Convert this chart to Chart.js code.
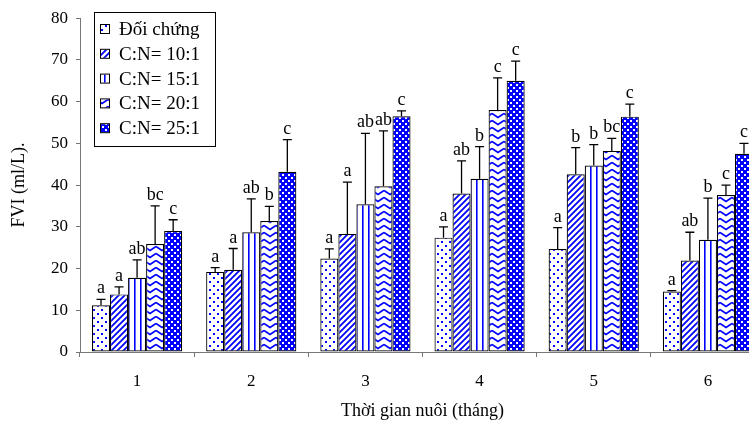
<!DOCTYPE html>
<html>
<head>
<meta charset="utf-8">
<script src="https://cdn.jsdelivr.net/npm/chart.js@4.4.1/dist/chart.umd.min.js"></script>
<style>
  html, body { margin: 0; padding: 0; background: #fff; overflow: hidden; }
  #wrap { width: 770px; height: 422px; }
</style>
</head>
<body>
<div id="wrap"><canvas id="chart"></canvas></div>
<script>
// months of culture
const categories = ['1', '2', '3', '4', '5', '6'];

// FVI means (ml/L)
const doiChung = [11.2, 19.2, 22.4, 27.4, 24.7, 14.5];
const cn10 = [13.8, 19.7, 28.3, 38.0, 42.6, 21.9];
const cn15 = [17.8, 28.7, 35.4, 41.5, 44.7, 26.9];
const cn20 = [25.9, 31.4, 39.7, 58.0, 48.2, 37.6];
const cn25 = [29.0, 43.2, 56.5, 65.0, 56.4, 47.5];

// standard deviations (upper bar only)
const doiChungErr = [1.4, 1.0, 2.3, 2.6, 5.1, 0.2];
const cn10Err = [1.8, 5.1, 12.4, 7.8, 6.4, 6.8];
const cn15Err = [4.3, 8.0, 17.0, 7.7, 5.0, 10.0];
const cn20Err = [9.1, 3.5, 13.3, 7.7, 3.0, 2.4];
const cn25Err = [2.7, 7.7, 1.3, 4.7, 3.0, 2.5];

// significance letters
const doiChungSig = ['a', 'a', 'a', 'a', 'a', 'a'];
const cn10Sig = ['a', 'a', 'a', 'ab', 'b', 'ab'];
const cn15Sig = ['ab', 'ab', 'ab', 'b', 'b', 'b'];
const cn20Sig = ['bc', 'b', 'ab', 'c', 'bc', 'c'];
const cn25Sig = ['c', 'c', 'c', 'c', 'c', 'c'];

const yTicks = [0, 10, 20, 30, 40, 50, 60, 70, 80];

const SERIF = "'Liberation Serif', 'Times New Roman', serif";
const BLUE = '#0000ff';

// Build a small repeating fill pattern
function makePattern(kind) {
  const c = document.createElement('canvas');
  const g = c.getContext('2d');
  if (kind === 'dots') {
    c.width = 8; c.height = 8;
    g.fillStyle = '#fff'; g.fillRect(0, 0, 8, 8);
    g.fillStyle = BLUE;
    g.fillRect(1, 1, 2, 2);
    g.fillRect(5, 5, 2, 2);
  } else if (kind === 'diag') {
    c.width = 6; c.height = 6;
    g.fillStyle = '#fff'; g.fillRect(0, 0, 6, 6);
    g.strokeStyle = BLUE; g.lineWidth = 1.8;
    g.beginPath();
    g.moveTo(-3, 3); g.lineTo(3, -3);
    g.moveTo(0, 6); g.lineTo(6, 0);
    g.moveTo(3, 9); g.lineTo(9, 3);
    g.stroke();
  } else if (kind === 'vert') {
    c.width = 6; c.height = 4;
    g.fillStyle = '#fff'; g.fillRect(0, 0, 6, 4);
    g.fillStyle = BLUE; g.fillRect(2, 0, 1.6, 4);
  } else if (kind === 'zigzag') {
    c.width = 12; c.height = 7;
    g.fillStyle = '#fff'; g.fillRect(0, 0, 12, 7);
    g.strokeStyle = BLUE; g.lineWidth = 1.6;
    g.beginPath();
    g.moveTo(0, 1.5); g.lineTo(6, 5.5); g.lineTo(12, 1.5);
    g.stroke();
  } else {
    c.width = 6; c.height = 6;
    g.fillStyle = BLUE; g.fillRect(0, 0, 6, 6);
    g.fillStyle = '#fff';
    g.fillRect(0, 0, 2, 2);
    g.fillRect(3, 3, 2, 2);
  }
  return g.createPattern(c, 'repeat');
}

// Error bars and letters above every bar
const errorBarPlugin = {
  id: 'errorBars',
  afterDatasetsDraw(chart) {
    const ctx = chart.ctx;
    const yScale = chart.scales.y;
    ctx.save();
    chart.data.datasets.forEach((ds, i) => {
      const meta = chart.getDatasetMeta(i);
      meta.data.forEach((bar, j) => {
        const top = yScale.getPixelForValue(ds.data[j] + ds.errors[j]);
        ctx.strokeStyle = '#000';
        ctx.lineWidth = 1.3;
        ctx.beginPath();
        ctx.moveTo(bar.x, bar.y);
        ctx.lineTo(bar.x, top);
        ctx.moveTo(bar.x - 4.5, top);
        ctx.lineTo(bar.x + 4.5, top);
        ctx.stroke();
        ctx.fillStyle = '#000';
        ctx.font = '18px ' + SERIF;
        ctx.textAlign = 'center';
        ctx.textBaseline = 'alphabetic';
        ctx.fillText(ds.letters[j], bar.x, top - 6);
      });
    });
    ctx.restore();
  }
};

// Boxed legend sitting inside the plot, top left
const boxLegendPlugin = {
  id: 'boxLegend',
  afterDraw(chart) {
    const ctx = chart.ctx;
    ctx.save();
    ctx.fillStyle = '#fff';
    ctx.fillRect(94, 12, 121, 134);
    ctx.strokeStyle = '#000';
    ctx.lineWidth = 1;
    ctx.strokeRect(94.5, 12.5, 121, 134);
    ctx.font = '19px ' + SERIF;
    ctx.textBaseline = 'middle';
    ctx.textAlign = 'left';
    chart.data.datasets.forEach((ds, i) => {
      const y = 29 + i * 24.8;
      ctx.fillStyle = ds.backgroundColor;
      ctx.fillRect(101, y - 4, 8, 8);
      ctx.strokeStyle = '#000';
      ctx.strokeRect(100.5, y - 4.5, 9, 9);
      ctx.fillStyle = '#000';
      ctx.fillText(ds.label, 119, y + 1);
    });
    ctx.restore();
  }
};

function series(label, data, errors, letters, kind) {
  return {
    label: label,
    data: data,
    errors: errors,
    letters: letters,
    backgroundColor: makePattern(kind),
    borderColor: '#000',
    borderWidth: 1.2,
    borderSkipped: false
  };
}

const ctx = document.getElementById('chart').getContext('2d');
new Chart(ctx, {
  type: 'bar',
  data: {
    labels: categories,
    datasets: [
      series('Đối chứng', doiChung, doiChungErr, doiChungSig, 'dots'),
      series('C:N= 10:1', cn10, cn10Err, cn10Sig, 'diag'),
      series('C:N= 15:1', cn15, cn15Err, cn15Sig, 'vert'),
      series('C:N= 20:1', cn20, cn20Err, cn20Sig, 'zigzag'),
      series('C:N= 25:1', cn25, cn25Err, cn25Sig, 'checker')
    ]
  },
  options: {
    responsive: true,
    maintainAspectRatio: false,
    animation: false,
    layout: { padding: { top: 17, right: 5, bottom: 0, left: 0 } },
    datasets: { bar: { categoryPercentage: 0.79, barPercentage: 1.0 } },
    plugins: {
      legend: { display: false },
      tooltip: { enabled: false }
    },
    scales: {
      x: {
        afterFit(scale) { scale.height = 70; },
        grid: { display: true, drawOnChartArea: false, offset: true, tickLength: 5, color: '#777' },
        border: { color: '#777', width: 1 },
        ticks: { color: '#000', padding: 14, font: { family: SERIF, size: 17 } },
        title: {
          display: true,
          text: 'Thời gian nuôi (tháng)',
          color: '#000',
          font: { family: SERIF, size: 18 },
          padding: { top: 0, bottom: 0 }
        }
      },
      y: {
        min: 0,
        max: 80,
        afterFit(scale) { scale.width = 80; },
        afterBuildTicks(scale) { scale.ticks = yTicks.map(v => ({ value: v })); },
        grid: { display: true, drawOnChartArea: false, tickLength: 4, color: '#777' },
        border: { color: '#777', width: 1 },
        ticks: { color: '#000', padding: 8, font: { family: SERIF, size: 17 } },
        title: {
          display: true,
          text: 'FVI (ml/L).',
          color: '#000',
          font: { family: SERIF, size: 18 },
          padding: { top: 8, bottom: 0 }
        }
      }
    }
  },
  plugins: [errorBarPlugin, boxLegendPlugin]
});
</script>
</body>
</html>
